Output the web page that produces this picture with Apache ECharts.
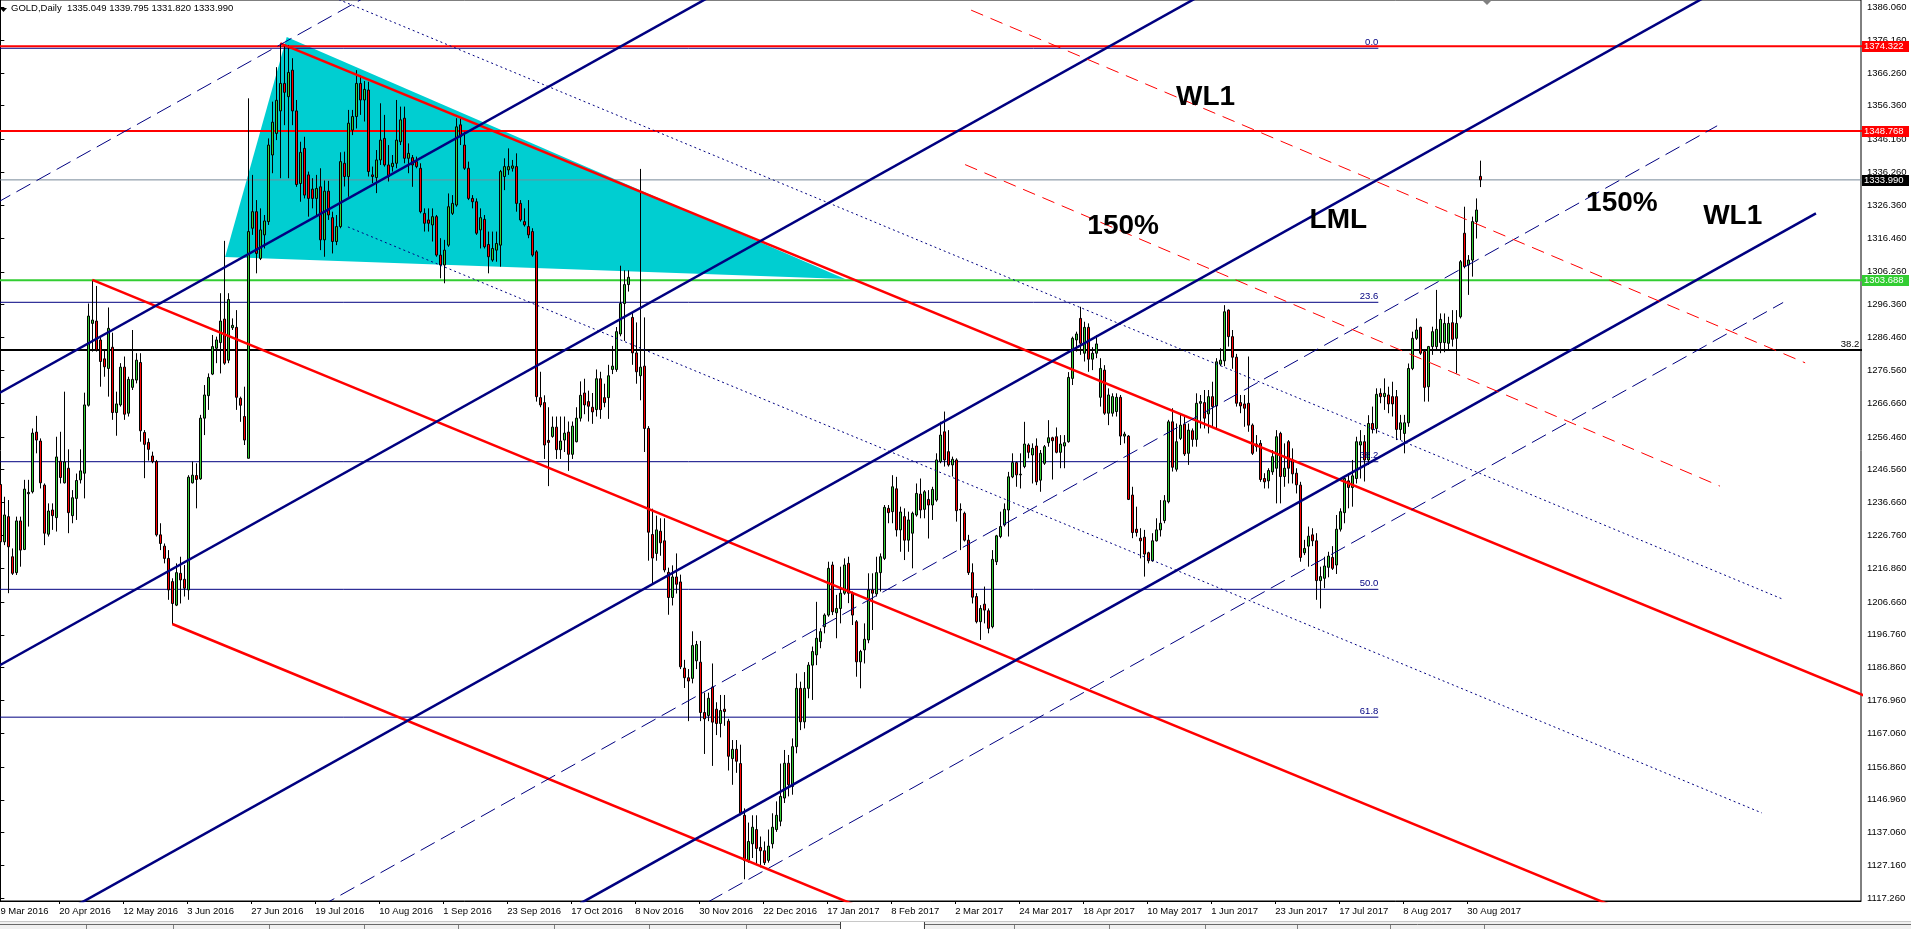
<!DOCTYPE html>
<html>
<head>
<meta charset="utf-8">
<script src="https://cdn.jsdelivr.net/npm/echarts@6/dist/echarts.min.js"></script>
<style>
  html, body { margin: 0; padding: 0; background: #fff; }
  #chart { width: 1911px; height: 929px; }
</style>
</head>
<body>
<div id="chart"></div>
<script>
// daily bars, one row per bar: [open, close, low, high]
const ohlc = [
  [1242.1,1224.8,1223.3,1244.5],[1224.8,1232.9,1223.8,1238.4],[1232.4,1223.3,1209.3,1237.4],[1220.3,1215.3,1214.8,1222.8],
  [1215.5,1231.1,1214.8,1232.4],[1231.1,1222.3,1217.3,1232.4],[1222.5,1240.7,1222.3,1243.5],[1239.3,1239.7,1229.4,1243.5],
  [1239.9,1257.6,1239.4,1259.0],[1257.9,1255.5,1251.5,1262.8],[1255.2,1242.6,1240.9,1256.0],[1241.9,1227.4,1223.8,1242.4],
  [1227.1,1234.1,1226.4,1236.4],[1234.4,1232.7,1228.4,1236.4],[1232.1,1250.4,1227.9,1256.5],[1249.1,1244.2,1242.4,1258.0],
  [1242.6,1248.9,1242.4,1270.1],[1247.0,1233.6,1227.4,1252.7],[1232.7,1238.1,1230.4,1240.4],[1237.9,1243.3,1231.4,1245.4],
  [1243.5,1246.2,1242.4,1252.7],[1245.5,1266.1,1237.9,1269.8],[1266.0,1292.9,1265.6,1296.7],[1290.7,1291.7,1282.2,1303.8],
  [1291.4,1282.7,1282.2,1302.0],[1285.7,1279.2,1271.6,1286.7],[1280.0,1277.6,1274.6,1282.7],[1277.1,1289.2,1268.6,1295.5],
  [1283.5,1263.8,1261.6,1287.9],[1263.8,1266.4,1256.8,1270.1],[1266.1,1277.5,1265.6,1278.7],[1277.5,1263.3,1261.6,1280.7],
  [1263.6,1273.8,1262.6,1274.6],[1271.4,1273.8,1270.6,1288.7],[1273.6,1279.6,1272.6,1281.7],[1278.9,1258.3,1255.0,1281.7],
  [1257.8,1254.2,1244.0,1258.5],[1254.8,1252.7,1249.3,1256.0],[1250.7,1249.0,1248.5,1252.0],[1249.0,1226.9,1226.4,1249.5],
  [1226.9,1224.3,1222.3,1230.4],[1223.5,1219.8,1218.3,1224.3],[1219.8,1210.3,1207.3,1222.3],[1212.8,1206.2,1200.0,1213.8],
  [1205.7,1215.5,1205.4,1218.3],[1215.3,1213.3,1206.2,1220.3],[1213.5,1210.8,1208.3,1217.8],[1210.3,1244.3,1207.3,1244.9],
  [1242.6,1244.9,1242.4,1249.0],[1244.8,1243.6,1234.9,1248.5],[1243.8,1262.1,1243.5,1263.1],[1262.1,1269.1,1257.0,1272.1],
  [1268.9,1274.4,1264.6,1275.6],[1275.4,1283.7,1275.1,1287.2],[1283.2,1285.7,1278.7,1286.7],[1284.9,1291.4,1275.6,1299.8],
  [1292.0,1278.7,1278.2,1315.6],[1279.6,1297.9,1278.7,1299.8],[1289.4,1290.1,1288.7,1292.2],[1289.5,1268.4,1264.6,1294.7],
  [1268.1,1266.0,1261.0,1268.6],[1262.6,1255.5,1254.0,1271.6],[1250.0,1318.4,1250.0,1358.6],[1319.4,1324.4,1317.4,1335.5],
  [1324.4,1311.8,1305.8,1327.9],[1310.3,1318.9,1309.8,1325.4],[1317.4,1321.6,1313.3,1323.4],[1321.4,1344.5,1320.4,1346.5],
  [1341.5,1351.4,1336.0,1357.6],[1348.0,1358.0,1346.0,1368.0],[1354.8,1363.1,1334.5,1375.2],[1363.1,1360.4,1350.5,1374.7],
  [1359.1,1366.4,1334.5,1374.7],[1367.1,1354.8,1350.5,1370.7],[1354.8,1332.6,1331.9,1358.1],[1332.9,1342.3,1327.4,1345.5],
  [1343.5,1329.4,1328.4,1347.0],[1335.5,1328.4,1322.9,1336.5],[1331.2,1328.4,1325.4,1334.5],[1328.4,1331.4,1323.4,1335.5],
  [1331.9,1315.9,1312.8,1337.5],[1315.9,1330.6,1310.8,1333.8],[1330.6,1323.4,1321.9,1333.7],[1322.6,1315.4,1311.8,1324.4],
  [1315.4,1319.9,1314.3,1323.4],[1319.9,1339.5,1319.4,1342.3],[1339.0,1335.0,1332.0,1342.5],[1335.0,1351.1,1328.9,1355.1],
  [1349.0,1353.1,1347.5,1355.1],[1353.1,1363.1,1349.5,1367.1],[1363.1,1358.1,1353.6,1365.6],[1358.1,1361.3,1351.6,1363.8],
  [1361.1,1336.5,1335.0,1363.6],[1335.5,1335.0,1333.0,1338.0],[1334.7,1340.0,1330.0,1343.0],[1340.0,1346.0,1338.5,1357.1],
  [1346.5,1338.5,1338.0,1353.6],[1338.5,1335.0,1333.5,1344.5],[1338.0,1339.0,1336.5,1341.5],[1339.0,1346.0,1337.5,1358.1],
  [1345.5,1352.1,1344.5,1356.1],[1352.6,1340.5,1339.0,1356.1],[1340.5,1342.0,1336.0,1345.0],[1340.7,1338.5,1331.9,1341.5],
  [1339.5,1338.0,1337.5,1341.0],[1337.5,1324.4,1323.9,1339.0],[1323.9,1320.9,1318.4,1325.4],[1321.9,1320.9,1318.4,1325.4],
  [1320.4,1322.9,1315.4,1325.4],[1322.9,1311.3,1310.8,1323.4],[1311.3,1308.3,1304.3,1316.4],[1308.3,1312.8,1302.8,1315.9],
  [1314.3,1325.9,1313.8,1329.9],[1323.9,1326.9,1323.4,1329.4],[1326.4,1350.0,1325.9,1352.6],[1350.6,1347.0,1344.5,1352.6],
  [1344.5,1337.5,1337.0,1348.5],[1337.5,1328.4,1327.9,1339.5],[1328.4,1327.4,1325.4,1329.4],[1327.4,1317.9,1317.4,1328.4],
  [1318.9,1322.6,1313.3,1325.4],[1322.1,1313.8,1313.3,1323.4],[1314.5,1310.8,1305.8,1318.4],[1309.8,1313.3,1309.3,1318.4],
  [1312.8,1314.8,1309.3,1318.4],[1314.3,1336.5,1307.8,1337.0],[1335.0,1338.0,1330.9,1340.5],[1337.0,1338.0,1335.5,1343.5],
  [1337.5,1338.2,1336.5,1340.0],[1338.0,1326.9,1324.4,1342.0],[1326.9,1321.9,1321.4,1327.9],[1321.4,1320.4,1319.9,1325.4],
  [1319.9,1317.4,1316.4,1327.9],[1318.4,1311.3,1310.8,1319.4],[1312.3,1268.6,1267.1,1312.8],[1268.3,1266.1,1265.4,1276.1],
  [1266.8,1254.0,1249.8,1269.0],[1255.4,1254.8,1241.6,1265.4],[1256.6,1259.4,1256.2,1262.6],[1259.4,1252.6,1249.8,1262.6],
  [1252.6,1255.2,1249.8,1262.6],[1255.5,1257.6,1251.9,1262.6],[1257.9,1251.2,1246.2,1261.1],[1251.2,1259.7,1249.8,1261.1],
  [1255.0,1262.1,1254.8,1265.4],[1262.1,1269.0,1261.1,1273.2],[1269.7,1266.1,1263.3,1274.0],[1267.1,1265.7,1261.1,1270.4],
  [1265.4,1264.0,1260.4,1269.7],[1264.7,1274.0,1262.6,1276.8],[1274.0,1264.7,1261.9,1276.1],[1268.3,1266.8,1265.4,1272.5],
  [1268.3,1274.9,1261.9,1278.2],[1276.8,1277.8,1275.4,1283.9],[1276.8,1288.2,1276.1,1289.6],[1287.5,1296.7,1286.8,1308.1],
  [1296.7,1302.4,1285.4,1306.7],[1302.4,1304.6,1300.3,1306.7],[1292.5,1281.8,1278.2,1294.0],[1281.8,1276.1,1272.5,1291.0],
  [1274.9,1277.5,1267.5,1337.3],[1277.8,1259.0,1251.9,1292.5],[1259.0,1227.7,1219.1,1259.7],[1227.0,1219.9,1212.0,1234.8],
  [1221.3,1228.4,1219.1,1232.7],[1228.0,1224.5,1220.6,1231.9],[1225.1,1216.3,1215.6,1231.9],[1215.6,1208.0,1202.8,1217.0],
  [1208.0,1214.2,1205.6,1217.7],[1214.2,1212.0,1209.2,1221.3],[1212.7,1187.1,1186.4,1214.9],[1186.7,1183.8,1180.7,1189.2],
  [1183.8,1182.8,1170.7,1186.4],[1183.6,1193.5,1182.1,1197.8],[1188.9,1193.8,1186.4,1194.9],[1188.5,1173.3,1170.7,1194.9],
  [1173.3,1171.4,1160.8,1179.3],[1172.4,1177.6,1170.7,1179.3],[1181.0,1170.4,1157.2,1188.1],[1174.3,1170.0,1166.5,1176.4],
  [1170.0,1173.9,1165.8,1178.6],[1174.3,1173.6,1169.3,1178.6],[1170.7,1160.1,1155.8,1171.4],[1159.4,1162.2,1151.5,1165.0],
  [1162.2,1158.6,1155.1,1165.0],[1157.9,1143.0,1142.3,1163.6],[1142.3,1128.7,1123.0,1144.4],[1128.7,1134.4,1128.0,1140.1],
  [1133.7,1138.7,1129.4,1142.3],[1138.0,1132.3,1127.3,1142.3],[1132.6,1131.6,1126.6,1135.9],[1131.6,1128.0,1127.3,1134.4],
  [1128.7,1133.0,1128.0,1138.0],[1133.7,1138.7,1132.3,1142.9],[1138.0,1142.3,1137.3,1146.5],[1140.5,1148.0,1139.0,1157.9],
  [1147.5,1158.0,1146.0,1162.0],[1158.0,1151.5,1148.0,1160.5],[1151.0,1163.0,1148.5,1165.5],[1163.0,1180.6,1161.0,1185.1],
  [1180.6,1170.5,1168.0,1182.6],[1170.5,1180.6,1168.5,1185.5],[1180.6,1187.6,1177.6,1188.5],[1187.6,1191.7,1177.1,1193.2],
  [1190.7,1195.7,1187.6,1206.7],[1194.7,1197.7,1192.7,1198.7],[1199.2,1202.7,1197.2,1203.2],[1202.7,1216.8,1202.2,1218.8],
  [1217.8,1203.7,1202.7,1218.8],[1203.4,1204.7,1195.7,1208.8],[1204.7,1209.3,1200.2,1217.3],[1209.3,1217.8,1208.8,1219.8],
  [1218.3,1209.3,1206.3,1220.3],[1209.3,1202.7,1199.7,1209.8],[1200.7,1188.6,1184.1,1201.2],[1188.6,1191.7,1180.6,1192.2],
  [1192.2,1195.4,1188.1,1200.2],[1195.2,1210.3,1194.2,1215.3],[1210.3,1209.3,1198.2,1215.3],[1209.1,1215.5,1208.3,1220.3],
  [1215.5,1220.3,1209.8,1221.3],[1219.8,1235.2,1219.3,1235.9],[1234.9,1233.6,1230.4,1235.9],[1233.9,1241.4,1230.4,1244.9],
  [1240.8,1228.4,1226.4,1244.4],[1228.4,1233.8,1221.8,1235.4],[1232.4,1225.3,1219.3,1234.9],[1225.3,1231.4,1221.8,1233.9],
  [1227.4,1233.4,1216.8,1233.9],[1232.9,1239.4,1232.4,1242.4],[1239.2,1234.4,1231.9,1243.9],[1234.6,1239.9,1231.9,1240.4],
  [1237.6,1235.9,1225.8,1240.4],[1235.9,1240.6,1231.4,1241.4],[1237.4,1249.5,1236.9,1251.5],[1249.0,1257.0,1248.5,1261.0],
  [1258.0,1249.5,1247.5,1264.1],[1252.0,1248.0,1247.5,1258.5],[1248.0,1249.7,1244.5,1250.5],[1249.5,1234.2,1230.9,1250.0],
  [1234.6,1234.4,1222.3,1236.4],[1233.4,1225.3,1224.9,1233.9],[1225.3,1215.5,1214.8,1226.9],[1215.5,1208.1,1206.2,1218.3],
  [1208.3,1200.7,1200.2,1209.3],[1200.7,1204.7,1195.2,1205.7],[1206.0,1204.2,1200.2,1211.3],[1204.0,1198.7,1197.2,1204.7],
  [1199.2,1219.5,1198.7,1222.3],[1218.8,1226.6,1217.8,1226.9],[1226.4,1229.4,1225.9,1233.9],[1229.9,1234.6,1229.4,1236.4],
  [1234.4,1244.4,1226.4,1245.9],[1244.4,1248.7,1244.0,1251.5],[1248.7,1245.0,1241.4,1249.0],[1245.0,1245.2,1240.9,1251.5],
  [1247.5,1254.3,1247.0,1261.0],[1254.0,1251.8,1250.0,1254.5],[1251.0,1253.0,1242.4,1254.5],[1253.7,1242.9,1241.9,1256.0],
  [1243.4,1251.5,1239.9,1252.5],[1248.5,1253.5,1248.0,1254.0],[1254.7,1256.2,1253.5,1261.5],[1256.2,1255.3,1243.6,1256.5],
  [1256.5,1251.8,1251.5,1259.3],[1251.8,1254.3,1247.0,1257.0],[1253.7,1254.7,1247.0,1257.0],[1255.0,1274.4,1254.7,1276.0],
  [1274.1,1286.2,1272.1,1286.7],[1285.7,1287.5,1282.2,1288.2],[1292.2,1284.7,1281.2,1295.7],[1281.7,1289.5,1279.2,1291.2],
  [1289.5,1279.9,1276.1,1290.7],[1279.9,1281.7,1276.6,1283.5],[1281.7,1284.5,1280.2,1287.2],[1268.4,1277.1,1265.6,1280.2],
  [1276.6,1263.6,1263.1,1278.1],[1263.6,1269.1,1260.0,1271.1],[1263.6,1268.6,1262.6,1269.6],[1264.1,1268.4,1262.6,1269.6],
  [1268.4,1256.7,1254.0,1269.1],[1256.7,1257.3,1254.5,1258.0],[1256.7,1237.6,1237.4,1257.0],[1238.9,1227.6,1225.9,1241.4],
  [1228.6,1227.6,1226.4,1235.4],[1225.9,1225.1,1219.8,1228.9],[1226.2,1221.1,1214.3,1228.4],[1221.5,1219.1,1218.3,1221.8],
  [1219.1,1225.1,1218.8,1227.4],[1225.1,1228.4,1224.9,1231.9],[1228.4,1230.4,1226.4,1237.4],[1231.2,1237.2,1230.4,1238.9],
  [1236.9,1261.0,1236.4,1261.6],[1261.0,1247.3,1246.0,1265.1],[1246.7,1255.0,1246.0,1260.5],[1256.0,1260.0,1255.5,1263.6],
  [1260.3,1251.3,1250.7,1262.6],[1251.5,1258.5,1248.0,1260.5],[1258.3,1255.7,1253.5,1259.0],[1255.7,1266.6,1253.5,1269.6],
  [1266.6,1267.1,1259.0,1269.1],[1266.8,1262.1,1259.0,1270.6],[1263.4,1268.6,1257.5,1270.6],[1268.6,1265.6,1259.5,1273.1],
  [1265.8,1279.1,1259.0,1280.2],[1278.4,1279.6,1277.8,1283.2],[1279.4,1294.2,1277.8,1296.2],[1294.7,1286.7,1283.7,1294.9],
  [1286.7,1280.5,1277.0,1288.7],[1280.5,1266.6,1265.6,1281.5],[1266.8,1265.8,1263.6,1269.1],[1266.4,1265.1,1259.5,1269.1],
  [1266.6,1260.0,1258.0,1280.7],[1260.0,1251.5,1251.0,1260.5],[1254.3,1253.5,1252.0,1257.0],[1254.5,1243.6,1242.9,1255.5],
  [1243.9,1242.9,1240.9,1245.5],[1243.2,1246.3,1240.9,1247.0],[1245.9,1250.5,1245.0,1252.5],[1247.0,1256.5,1236.4,1258.5],
  [1257.5,1244.5,1236.4,1258.0],[1244.5,1247.0,1241.4,1254.5],[1255.0,1247.0,1242.4,1255.5],[1249.5,1245.3,1242.4,1253.0],
  [1245.5,1242.0,1239.4,1247.0],[1241.9,1220.1,1218.8,1242.9],[1221.5,1222.8,1220.8,1225.4],[1223.5,1226.5,1217.3,1229.4],
  [1226.9,1225.1,1223.5,1228.9],[1225.1,1213.1,1207.3,1227.4],[1213.1,1214.3,1204.7,1217.3],[1213.8,1217.5,1210.8,1220.3],
  [1217.1,1220.5,1214.1,1221.8],[1220.1,1216.8,1216.3,1223.5],[1217.8,1228.6,1215.1,1232.9],[1228.6,1233.9,1227.9,1234.9],
  [1233.6,1243.9,1230.4,1244.5],[1243.2,1241.2,1234.9,1245.5],[1241.2,1244.7,1235.4,1249.5],[1243.9,1255.0,1242.4,1256.5],
  [1254.0,1255.0,1243.9,1258.5],[1255.0,1249.5,1243.0,1257.0],[1249.5,1260.5,1248.0,1263.0],[1260.5,1258.7,1257.5,1265.6],
  [1259.0,1269.3,1257.5,1271.1],[1269.6,1268.6,1266.6,1271.1],[1268.6,1269.6,1264.6,1274.1],[1269.1,1266.4,1263.6,1271.6],
  [1268.6,1266.4,1262.6,1273.1],[1268.6,1258.7,1255.5,1270.6],[1258.7,1260.7,1255.5,1263.1],[1257.5,1260.7,1251.5,1263.1],
  [1260.7,1277.1,1259.5,1278.6],[1277.1,1286.2,1276.6,1288.2],[1286.2,1288.7,1285.7,1292.2],[1289.5,1281.7,1281.2,1289.7],
  [1282.2,1271.4,1267.1,1282.7],[1271.6,1283.7,1267.1,1283.9],[1283.7,1288.2,1281.2,1289.7],[1283.7,1288.9,1282.7,1300.8],
  [1284.9,1291.9,1281.7,1293.7],[1284.9,1290.7,1282.0,1293.7],[1284.7,1290.7,1282.5,1292.7],[1290.9,1285.9,1283.7,1294.7],
  [1286.2,1290.7,1275.6,1294.7],[1292.7,1309.3,1292.2,1309.8],[1317.9,1307.8,1307.3,1325.9],[1308.3,1309.8,1299.3,1311.3],
  [1309.8,1321.4,1304.8,1322.9],[1321.4,1324.9,1316.3,1328.4],[1335.049,1333.990,1331.820,1339.795]
];

// time axis labels (bar index of each label)
const dateBars = [-1, 15, 31, 47, 63, 79, 95, 111, 127, 143, 159, 175, 191, 207, 223, 239, 255, 271, 287, 303, 319, 335, 351, 367];
const dateLabels = ['29 Mar 2016', '20 Apr 2016', '12 May 2016', '3 Jun 2016', '27 Jun 2016', '19 Jul 2016', '10 Aug 2016',
  '1 Sep 2016', '23 Sep 2016', '17 Oct 2016', '8 Nov 2016', '30 Nov 2016', '22 Dec 2016', '17 Jan 2017', '8 Feb 2017',
  '2 Mar 2017', '24 Mar 2017', '18 Apr 2017', '10 May 2017', '1 Jun 2017', '23 Jun 2017', '17 Jul 2017', '8 Aug 2017', '30 Aug 2017'];

// price scale ticks
const priceTicks = [1386.060, 1376.160, 1366.260, 1356.360, 1346.160, 1336.260, 1326.360, 1316.460, 1306.260, 1296.360,
  1286.460, 1276.560, 1266.660, 1256.460, 1246.560, 1236.660, 1226.760, 1216.860, 1206.660, 1196.760, 1186.860,
  1176.960, 1167.060, 1156.860, 1146.960, 1137.060, 1127.160, 1117.260];

// horizontal levels
const levelPrices = [1374.322, 1348.768, 1333.990, 1303.688, 1282.67];
const tagPrices = [1374.322, 1348.768, 1333.990, 1303.688];

// fibo retracement levels
const fiboNames = ['0.0', '23.6', '38.2', '50.0', '61.8'];
const fiboPrices = [1373.7, 1297.06, 1248.97, 1210.47, 1171.9];
const fiboEndBar = 344.5;

// drawing objects, [[bar, price], [bar, price]]
const redFork = [
  [[23, 1303.8], [480, 1076.7]],
  [[70, 1375.2], [480, 1171.4]],
  [[43, 1200.0], [260, 1092.2]]
];
const blueFork = [
  [[-1, 1269.2], [180, 1391.0]],
  [[-1, 1187.0], [310, 1396.3]],
  [[19, 1115.1], [430, 1391.7]],
  [[145, 1115.7], [453.9, 1323.9]]
];
const blueDash = [
  [[-1, 1327.0], [100, 1395.0]],
  [[80, 1114.8], [429.2, 1350.3]],
  [[177, 1116.2], [445.7, 1297.0]]
];
const blueDot = [
  [[80, 1390.7], [445.4, 1207.6]],
  [[86.9, 1319.8], [440.4, 1143.0]]
];
const redDash = [
  [[242.7, 1385.2], [451.2, 1278.8]],
  [[241.2, 1338.6], [429.9, 1241.6]]
];
const triangle = [[71.6, 1377.1], [56.2, 1310.7], [211.2, 1304.1]];

// chart notes
const noteTexts = ['WL1', '150%', 'LML', '150%', 'WL1'];
const notePoints = [[301.3, 1358.9], [280.7, 1320.1], [334.5, 1321.7], [405.4, 1326.8], [433.1, 1322.9]];
const sideFiboText = '38.2';
const sideFiboPoint = [464.75, 1282.67];

const FONT = 'Liberation Sans';
const NAVY = '#000080';
const tagColors = ['#ff0000', '#ff0000', '#000000', '#32cd32'];
const levelStyles = [
  { color: '#ff0000', width: 2 },
  { color: '#ff0000', width: 2 },
  { color: '#778899', width: 1 },
  { color: '#32cd32', width: 2 },
  { color: '#000000', width: 2 }
];

const chart = echarts.init(document.getElementById('chart'));
const series = [];

function lineSeries(pts, color, width, type, z) {
  return {
    type: 'line', data: pts, symbol: 'none', silent: true, animation: false, z: z || 4,
    lineStyle: { color: color, width: width, type: type || 'solid' }
  };
}

// triangle (behind candles)
series.push({
  type: 'custom', z: 1, silent: true, animation: false,
  data: [triangle[0].concat(triangle[1], triangle[2])],
  encode: { x: [0, 2, 4], y: [1, 3, 5] },
  renderItem: function (params, api) {
    const pts = [];
    for (let i = 0; i < 3; i++) pts.push(api.coord([api.value(i * 2), api.value(i * 2 + 1)]));
    return { type: 'polygon', shape: { points: pts }, style: { fill: '#00ced1' } };
  }
});

// fibo levels
fiboPrices.forEach(function (p) {
  series.push(lineSeries([[-1, p], [fiboEndBar, p]], NAVY, 1, 'solid', 3));
});
// horizontal levels
levelPrices.forEach(function (p, i) {
  series.push(lineSeries([[-1, p], [470, p]], levelStyles[i].color, levelStyles[i].width, 'solid', 3));
});

// candles
series.push({
  type: 'candlestick', z: 3, silent: true, animation: false, barWidth: 2,
  dimensions: ['bar', 'open', 'close', 'lowest', 'highest'],
  encode: { x: 'bar', y: ['open', 'close', 'lowest', 'highest'] },
  data: ohlc.map(function (r, i) { return [i, r[0], r[1], r[2], r[3]]; }),
  itemStyle: { color: '#32cd32', color0: '#ff0000', borderColor: '#000', borderColor0: '#000', borderWidth: 1 }
});

redFork.forEach(function (l) { series.push(lineSeries(l, '#ff0000', 2.5)); });
blueFork.forEach(function (l) { series.push(lineSeries(l, NAVY, 2.5)); });
blueDash.forEach(function (l) { series.push(lineSeries(l, NAVY, 1, [16, 7])); });
blueDot.forEach(function (l) { series.push(lineSeries(l, NAVY, 1, [2, 3])); });
redDash.forEach(function (l) { series.push(lineSeries(l, '#ff0000', 1, [13, 8])); });

// fibo labels
series.push({
  type: 'scatter', symbolSize: 0, silent: true, animation: false, z: 5,
  itemStyle: { opacity: 1 },
  data: fiboPrices.map(function (p, i) {
    return { value: [fiboEndBar, p], name: fiboNames[i] };
  }).concat([{ value: sideFiboPoint, name: sideFiboText, label: { color: '#000' } }]),
  label: {
    show: true, position: 'left', distance: 0, verticalAlign: 'bottom', offset: [0, -1],
    formatter: '{b}', color: NAVY, fontSize: 9.5, fontFamily: FONT, textBorderWidth: 0
  }
});

// big notes
series.push({
  type: 'scatter', symbolSize: 0, silent: true, animation: false, z: 6,
  itemStyle: { opacity: 1 },
  data: notePoints.map(function (p, i) { return { value: p, name: noteTexts[i] }; }),
  label: {
    show: true, position: 'inside', formatter: '{b}', color: '#000',
    textBorderWidth: 0, textBorderColor: 'transparent',
    fontSize: 28, fontWeight: 'bold', fontFamily: FONT
  }
});

// price tags on the scale
series.push({
  type: 'custom', z: 10, silent: true, animation: false, clip: false,
  data: tagPrices.map(function (p) { return [0, p]; }),
  encode: { x: 0, y: 1 },
  renderItem: function (params, api) {
    const y = Math.round(api.coord([0, api.value(1)])[1]);
    const cs = params.coordSys;
    const x0 = cs.x + cs.width + 1;
    return {
      type: 'group', children: [
        { type: 'rect', shape: { x: x0, y: y - 5, width: 47, height: 11 }, style: { fill: tagColors[params.dataIndex] } },
        { type: 'text', style: { text: api.value(1).toFixed(3), x: x0 + 2, y: y + 0.5, verticalAlign: 'middle',
          fill: '#fff', font: '9.5px "' + FONT + '"' } }
      ]
    };
  }
});

const last = ohlc[ohlc.length - 1];
const tickVals = dateBars.slice(1).map(function (b) { return b - 0.3; });

chart.setOption({
  animation: false,
  backgroundColor: '#fff',
  title: {
    text: 'GOLD,Daily  ' + [last[0], last[3], last[2], last[1]].map(function (v) { return v.toFixed(3); }).join(' '),
    left: 11, top: 3, padding: 0,
    textStyle: { fontSize: 9.5, fontWeight: 'normal', fontFamily: FONT, color: '#000' }
  },
  grid: { left: -1, right: 50, top: 0, bottom: 28, show: true, borderColor: '#000', borderWidth: 1,
    containLabel: false, outerBoundsMode: 'none' },
  xAxis: {
    type: 'value', min: -0.3325, max: 465.1675,
    axisLine: { show: true, onZero: false, lineStyle: { color: '#000', width: 1 } },
    axisTick: { show: true, customValues: tickVals, length: 3, lineStyle: { color: '#000' } },
    axisLabel: {
      customValues: tickVals, align: 'left', margin: 5, color: '#000', fontSize: 9.5, fontFamily: FONT,
      formatter: function (v) {
        let best = 0;
        for (let i = 0; i < tickVals.length; i++) if (Math.abs(tickVals[i] - v) < Math.abs(tickVals[best] - v)) best = i;
        return dateLabels[best + 1];
      }
    },
    splitLine: { show: false }
  },
  yAxis: {
    type: 'value', position: 'right', min: 1116.44, max: 1388.26,
    axisLine: { show: true, lineStyle: { color: '#000', width: 1 } },
    axisTick: { show: true, customValues: priceTicks, length: 4, lineStyle: { color: '#000' } },
    axisLabel: {
      customValues: priceTicks, margin: 6, color: '#000', fontSize: 9.5, fontFamily: FONT,
      formatter: function (v) { return v.toFixed(3); }
    },
    splitLine: { show: false }
  },
  series: series
});

// first, clipped date label and window decorations
const firstX = chart.convertToPixel({ xAxisIndex: 0 }, dateBars[0] - 0.3);
const axisY = chart.convertToPixel({ yAxisIndex: 0 }, 1116.44);
const graphics = [
  { type: 'text', x: firstX, y: axisY + 5, style: { text: dateLabels[0], fill: '#000', font: '9.5px "' + FONT + '"' }, z: 20 },
  { type: 'polygon', shape: { points: [[0, 8], [7, 8], [3.5, 12]] }, style: { fill: '#000' }, z: 20 },
  { type: 'polygon', shape: { points: [[1482, 0], [1492, 0], [1487, 5]] }, style: { fill: '#808080' }, z: 20 },
  { type: 'rect', shape: { x: 0, y: 921, width: 1911, height: 8 }, style: { fill: '#f0f0f0' }, z: 19 },
  { type: 'line', shape: { x1: 0, y1: 921.5, x2: 1911, y2: 921.5 }, style: { stroke: '#c8c8c8' }, z: 20 },
  { type: 'line', shape: { x1: 0, y1: 924.5, x2: 840, y2: 924.5 }, style: { stroke: '#696969' }, z: 20 },
  { type: 'line', shape: { x1: 924, y1: 924.5, x2: 1911, y2: 924.5 }, style: { stroke: '#696969' }, z: 20 },
  { type: 'rect', shape: { x: 840.5, y: 922, width: 83, height: 7 }, style: { fill: '#fff' }, z: 20 }
];
[86, 173, 269, 364, 458, 554, 649, 746, 1014, 1109, 1205, 1297, 1390, 1484].forEach(function (x) {
  graphics.push({ type: 'line', shape: { x1: x + 0.5, y1: 925, x2: x + 0.5, y2: 929 }, style: { stroke: '#808080' }, z: 20 });
});
[840, 924].forEach(function (x) {
  graphics.push({ type: 'line', shape: { x1: x + 0.5, y1: 922, x2: x + 0.5, y2: 929 }, style: { stroke: '#404040' }, z: 21 });
});
chart.setOption({ graphic: graphics });
</script>
</body>
</html>
